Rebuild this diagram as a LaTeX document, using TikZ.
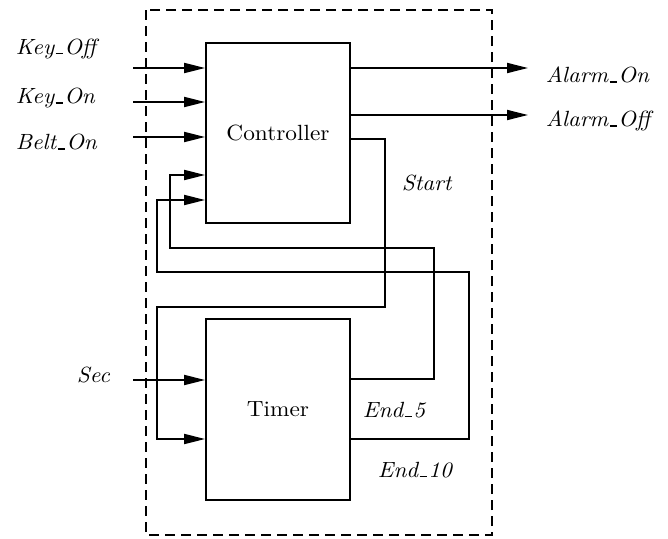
\documentclass[tikz,border=0pt]{standalone}
\usepackage{graphicx}
\usetikzlibrary{arrows.meta}
\newcommand{\bigtxt}[1]{\scalebox{2.33}[2.2]{#1}}
\newcommand{\itxt}[1]{\scalebox{2.3}[2.2]{\itshape #1}}
\newcommand{\us}{\kern0.06em\rule{0.32em}{0.08em}\kern0.06em}
\begin{document}
\begin{tikzpicture}[x=1pt,y=-1pt,
  line width=1.8pt,
  blk/.style={draw,line width=1.8pt,minimum width=144pt,minimum height=180pt,inner sep=0pt},
  arr/.style={-{Triangle[length=21pt,width=10pt]}},
  lbl/.style={inner sep=0pt},
  frame/.style={draw,line width=1.6pt,dash pattern=on 10pt off 6pt}]
\useasboundingbox (0,0) rectangle (668,538);
\draw[frame] (146,10) rectangle (492,535);
\node[blk] (ctrl) at (278,133) {\bigtxt{Controller}};
\node[blk,minimum height=181pt] (tim) at (278,409.5) {\bigtxt{Timer}};
% inputs
\coordinate (ko) at (133,68);
\coordinate (kn) at (133,102);
\coordinate (bo) at (133,137);
\coordinate (sc) at (133,380);
\draw[arr] (ko) -- (ko -| ctrl.west);
\draw[arr] (kn) -- (kn -| ctrl.west);
\draw[arr] (bo) -- (bo -| ctrl.west);
\draw[arr] (sc) -- (sc -| tim.west);
\node[lbl,anchor=west] (lko) at (15,49) {\itxt{Key\us Off}};
\node[lbl,anchor=west] (lkn) at (15,98) {\itxt{Key\us On}};
\node[lbl,anchor=west] (lbo) at (15,142) {\itxt{Belt\us On}};
\node[lbl,anchor=west] (lsc) at (76,375) {\itxt{Sec}};
% outputs
\coordinate (ao) at (528,68);
\coordinate (af) at (528,115);
\draw[arr] (ao -| ctrl.east) -- (ao);
\draw[arr] (af -| ctrl.east) -- (af);
\node[lbl,anchor=west] (lao) at (545,75) {\itxt{Alarm\us On}};
\node[lbl,anchor=west] (laf) at (545,121) {\itxt{Alarm\us Off}};
% Start
\coordinate (s1) at (385,139);
\coordinate (s2) at (385,307);
\coordinate (s3) at (157,307);
\coordinate (s4) at (157,439);
\draw[arr] (s1 -| ctrl.east) -- (s1) -- (s2) -- (s3) -- (s4) -- (s4 -| tim.west);
\node[lbl,anchor=west] (lst) at (401,183) {\itxt{Start}};
% End_5
\coordinate (e1) at (434,379);
\coordinate (e2) at (434,248);
\coordinate (e3) at (170,248);
\coordinate (e4) at (170,175);
\draw[arr] (e1 -| tim.east) -- (e1) -- (e2) -- (e3) -- (e4) -- (e4 -| ctrl.west);
\node[lbl,anchor=west] (le5) at (362,410) {\itxt{End\us 5}};
% End_10
\coordinate (f1) at (469,439);
\coordinate (f2) at (469,272);
\coordinate (f3) at (157,272);
\coordinate (f4) at (157,200);
\draw[arr] (f1 -| tim.east) -- (f1) -- (f2) -- (f3) -- (f4) -- (f4 -| ctrl.west);
\node[lbl,anchor=west] (le10) at (377,470) {\itxt{End\us 10}};
\end{tikzpicture}
\end{document}
